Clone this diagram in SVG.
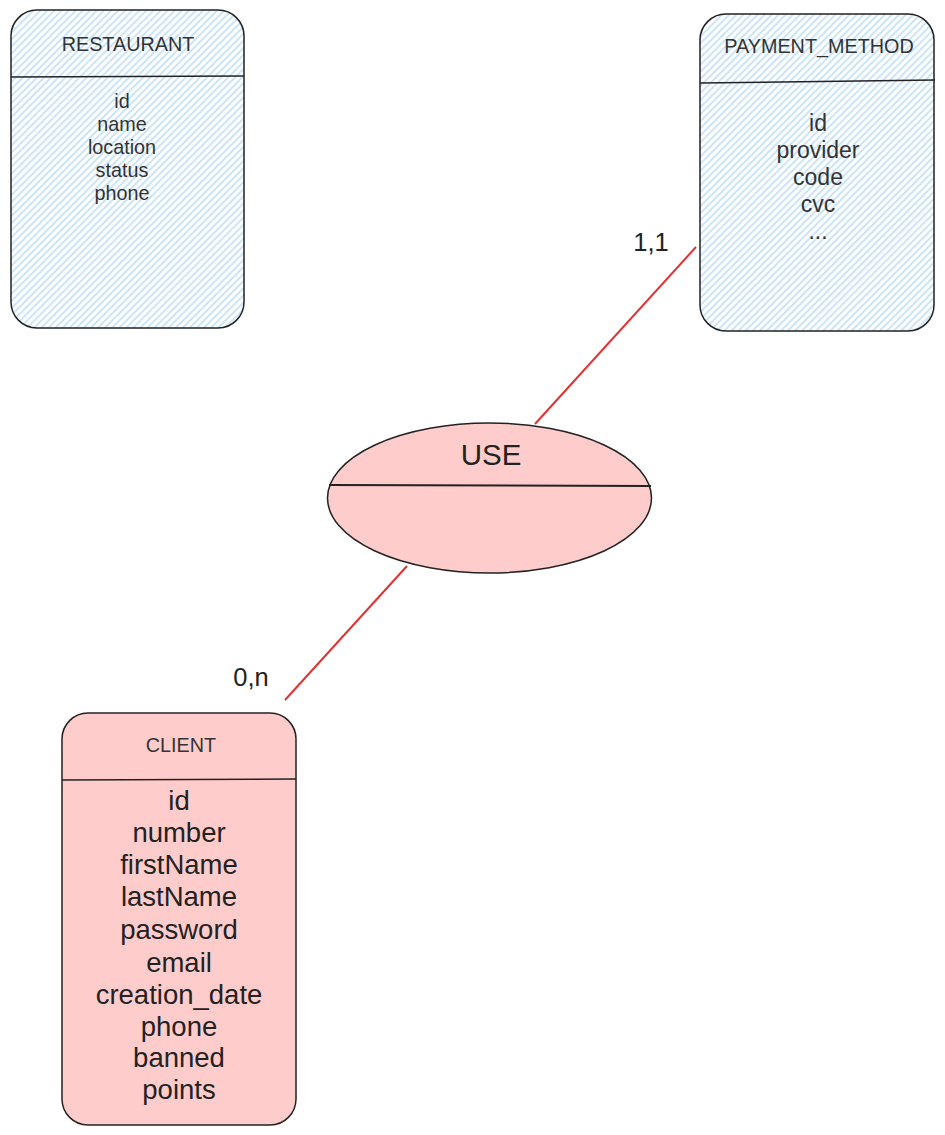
<svg xmlns="http://www.w3.org/2000/svg" width="945" height="1135" viewBox="0 0 945 1135">
<defs>
<pattern id="hatch" patternUnits="userSpaceOnUse" width="5" height="5" patternTransform="rotate(-45)">
<rect width="5" height="5" fill="#ffffff"/>
<line x1="0" y1="1" x2="5" y2="1" stroke="#b5daf6" stroke-width="1.4"/>
</pattern>
<style>
.box{stroke:#222;stroke-width:1.5}
.blue{fill:url(#hatch)}
.pink{fill:#ffcccc}
.div{stroke:#222;stroke-width:1.5;fill:none}
text{font-family:"Liberation Sans",Arial,sans-serif;fill:#333;text-anchor:middle}
.t20{font-size:19.8px}
.t23{font-size:23px}
.t27{font-size:27.5px;fill:#222}
.lbl{font-size:25.5px;fill:#222}
.conn{stroke:#e03232;stroke-width:2;fill:none}
</style>
</defs>
<g id="connectors">
<line class="conn" x1="696" y1="247" x2="535" y2="424"/>
<line class="conn" x1="407" y1="566" x2="285" y2="700"/>
<text class="lbl" x="651" y="251">1,1</text>
<text class="lbl" x="251" y="686">0,n</text>
</g>
<g id="restaurant">
<rect class="box blue" x="11" y="10" width="233" height="318" rx="26" ry="26"/>
<line class="div" x1="11" y1="77" x2="244" y2="76"/>
<text class="t20" x="128" y="51">RESTAURANT</text>
<text class="t20" x="122" y="108">id</text>
<text class="t20" x="122" y="131">name</text>
<text class="t20" x="122" y="154">location</text>
<text class="t20" x="122" y="177">status</text>
<text class="t20" x="122" y="200">phone</text>
</g>
<g id="payment_method">
<rect class="box blue" x="700" y="14" width="234" height="317" rx="26" ry="26"/>
<line class="div" x1="700" y1="83" x2="935" y2="80"/>
<text class="t20" x="819" y="53">PAYMENT_METHOD</text>
<text class="t23" x="818" y="131">id</text>
<text class="t23" x="818" y="158">provider</text>
<text class="t23" x="818" y="185">code</text>
<text class="t23" x="818" y="212">cvc</text>
<text class="t23" x="818" y="239">...</text>
</g>
<g id="use">
<ellipse class="box pink" cx="489.5" cy="498" rx="162" ry="75"/>
<line class="div" x1="329" y1="485" x2="651" y2="486" style="stroke-width:2"/>
<text x="491" y="465" style="font-size:29.5px;fill:#222">USE</text>
</g>
<g id="client">
<rect class="box pink" x="62" y="713" width="234" height="412" rx="26" ry="26"/>
<line class="div" x1="62" y1="780" x2="296" y2="779"/>
<text class="t20" x="181" y="752">CLIENT</text>
<text class="t27" x="179" y="810">id</text>
<text class="t27" x="179" y="842">number</text>
<text class="t27" x="179" y="874">firstName</text>
<text class="t27" x="179" y="906">lastName</text>
<text class="t27" x="179" y="939">password</text>
<text class="t27" x="179" y="972">email</text>
<text class="t27" x="179" y="1004">creation_date</text>
<text class="t27" x="179" y="1036">phone</text>
<text class="t27" x="179" y="1067">banned</text>
<text class="t27" x="179" y="1099">points</text>
</g>
</svg>
